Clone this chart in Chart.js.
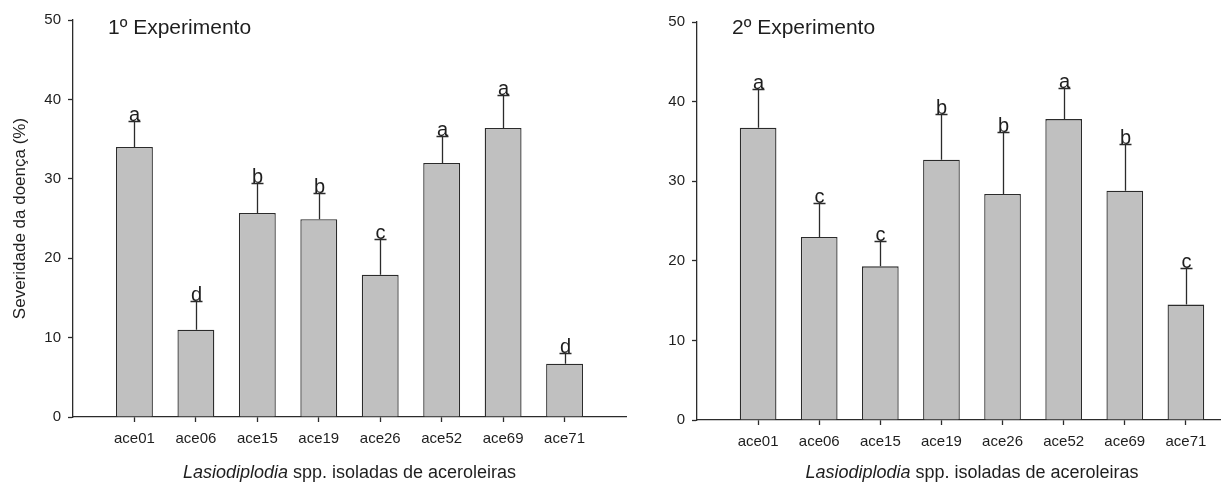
<!DOCTYPE html>
<html>
	<head>
		<meta charset="UTF-8">
		<title></title>
		<script src="https://cdn.jsdelivr.net/npm/chart.js@4.4.0/dist/chart.umd.min.js"></script>
		<style type="text/css">
			*{
				margin: 0;
				padding: 0;
			}
			body{
				width: 1221px;
				height: 484px;
				overflow: hidden;
				position: relative;
				background: white;
			}
			.box{
				position: absolute;
				top: 0;
				width: 640px;
				height: 484px;
			}
			#box1{ left: 0; }
			#box2{ left: 624px; }
		</style>
	</head>
	<body>
		<div class="box" id="box1"><canvas id="chart1" width="640" height="484"></canvas></div>
		<div class="box" id="box2"><canvas id="chart2" width="640" height="484"></canvas></div>

		<script type="text/javascript">
			var categories=["ace01","ace06","ace15","ace19","ace26","ace52","ace69","ace71"];
			var yTicks=[0,10,20,30,40,50];

			var exp1Mean=[34.0,11.0,25.7,24.9,17.9,32.0,36.4,6.7];
			var exp1Err=[3.3,3.6,3.8,3.3,4.5,3.4,4.1,1.4];
			var exp1Letters=["a","d","b","b","c","a","a","d"];

			var exp2Mean=[36.7,23.0,19.3,32.7,28.4,37.8,28.8,14.5];
			var exp2Err=[4.9,4.3,3.2,5.7,7.8,3.9,5.9,4.6];
			var exp2Letters=["a","c","c","b","b","a","b","c"];

			var ink="#2b2b2b";
			var font="'Liberation Sans', Arial, sans-serif";

			// pad labels with an empty slot on both ends so the axis runs one step past the bars
			var labels=[""].concat(categories,[""]);

			var errorBars={
				id:"errorBars",
				afterDatasetsDraw:function(chart,args,opts){
					var ctx=chart.ctx;
					var x=chart.scales.x, y=chart.scales.y;
					ctx.save();
					ctx.strokeStyle=ink;
					ctx.lineWidth=1.3;
					ctx.fillStyle="#1e1e1e";
					ctx.font="20px "+font;
					ctx.textAlign="center";
					ctx.textBaseline="alphabetic";
					opts.mean.forEach(function(m,i){
						var px=Math.round(x.getPixelForValue(i+1))+0.5;
						var y0=y.getPixelForValue(m);
						var y1=Math.round(y.getPixelForValue(m+opts.err[i]))+0.5;
						ctx.beginPath();
						ctx.moveTo(px,y0);
						ctx.lineTo(px,y1);
						ctx.moveTo(px-6,y1);
						ctx.lineTo(px+6,y1);
						ctx.stroke();
						ctx.fillText(opts.letters[i],px,y1-1);
					});
					ctx.restore();
				}
			};

			var texts={
				id:"texts",
				afterDraw:function(chart,args,opts){
					var ctx=chart.ctx;
					var area=chart.chartArea;
					ctx.save();
					ctx.fillStyle="#1e1e1e";
					ctx.textBaseline="middle";
					ctx.textAlign="left";
					ctx.font="21px "+font;
					ctx.fillText(opts.title,area.left+35,28);

					// x axis title, first word in italics
					var w1="Lasiodiplodia", w2=" spp. isoladas de aceroleiras";
					ctx.font="italic 18px "+font;
					var a=ctx.measureText(w1).width;
					ctx.font="18px "+font;
					var b=ctx.measureText(w2).width;
					var sx=(area.left+area.right)/2-(a+b)/2;
					ctx.font="italic 18px "+font;
					ctx.fillText(w1,sx,473);
					ctx.font="18px "+font;
					ctx.fillText(w2,sx+a,473);
					ctx.restore();
				}
			};

			function makeChart(id,mean,err,letters,title,showYTitle,pad){
				var ctx=document.getElementById(id).getContext("2d");
				return new Chart(ctx,{
					type:"bar",
					data:{
						labels:labels,
						datasets:[{
							data:[null].concat(mean,[null]),
							backgroundColor:"#c0c0c0",
							borderColor:ink,
							borderWidth:1.3,
							barPercentage:0.6,
							categoryPercentage:1
						}]
					},
					plugins:[errorBars,texts],
					options:{
						responsive:false,
						animation:false,
						events:[],
						layout:{padding:{left:0,right:pad.right,top:pad.top,bottom:0}},
						plugins:{
							legend:{display:false},
							tooltip:{enabled:false},
							errorBars:{mean:mean,err:err,letters:letters},
							texts:{title:title}
						},
						scales:{
							x:{
								type:"category",
								offset:false,
								border:{display:true,color:ink,width:1.3},
								grid:{
									offset:false,
									drawOnChartArea:false,
									drawTicks:true,
									tickLength:5,
									tickWidth:1.3,
									tickColor:function(c){
										return (c.index===0||c.index===labels.length-1)?"rgba(0,0,0,0)":ink;
									}
								},
								ticks:{
									color:"#1e1e1e",
									font:{family:font,size:15},
									padding:8,
									maxRotation:0,
									autoSkip:false
								},
								afterFit:function(s){ s.height=pad.xHeight; }
							},
							y:{
								min:0,
								max:50,
								border:{display:true,color:ink,width:1.3},
								grid:{
									drawOnChartArea:false,
									drawTicks:true,
									tickLength:5,
									tickWidth:1.3,
									color:ink
								},
								afterBuildTicks:function(s){
									s.ticks=yTicks.map(function(v){ return {value:v}; });
								},
								ticks:{
									color:"#1e1e1e",
									font:{family:font,size:15},
									padding:7
								},
								title:{
									display:showYTitle,
									text:"Severidade da doença (%)",
									color:"#1e1e1e",
									font:{family:font,size:17},
									padding:{top:10,bottom:0}
								},
								afterFit:function(s){ s.width=73; }
							}
						}
					}
				});
			}

			makeChart("chart1",exp1Mean,exp1Err,exp1Letters,"1º Experimento",true,{right:14,top:20,xHeight:67});
			makeChart("chart2",exp2Mean,exp2Err,exp2Letters,"2º Experimento",false,{right:17,top:22,xHeight:64});
		</script>
	</body>
</html>
